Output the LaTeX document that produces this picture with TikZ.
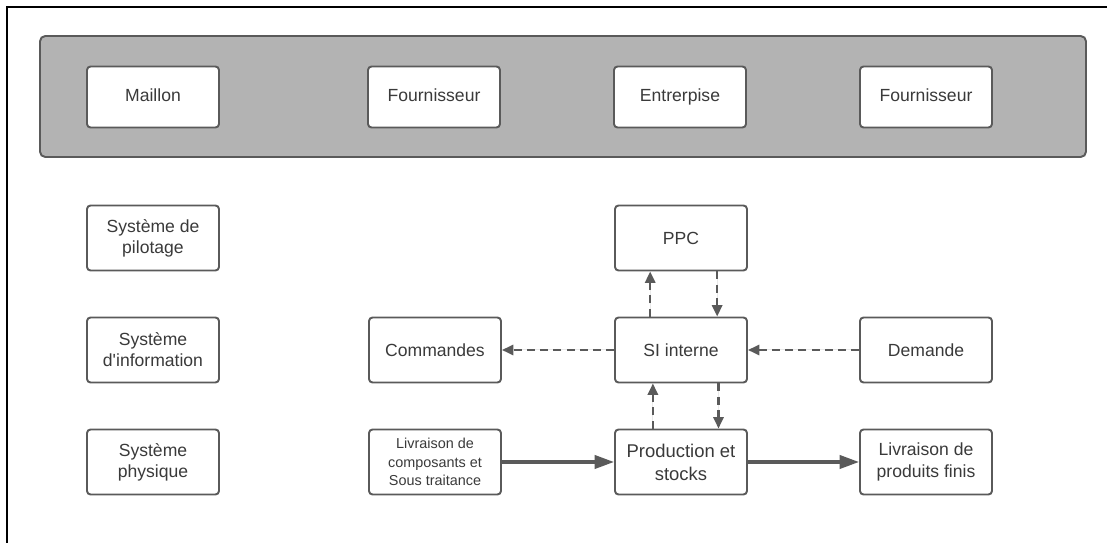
\documentclass[tikz,border=0pt]{standalone}
\usepackage{fontspec}
\setmainfont{Liberation Sans}
\usepackage{tikz}
\usetikzlibrary{calc,arrows.meta}
\definecolor{trait}{HTML}{5A5A5A}
\definecolor{texte}{HTML}{3A3A3A}
\definecolor{bande}{HTML}{B3B3B3}
\tikzset{
	boite/.style={draw=trait, line width=1.1pt, rounded corners=2pt, fill=white, text=texte,
		minimum width=2.64cm, minimum height=1.3cm, align=center, inner sep=1pt,
		font=\fontsize{10}{12}\selectfont},
	entete/.style={boite, minimum height=1.22cm, text height=7.5pt, text depth=2.2pt},
	flux/.style={-{Triangle[length=6.5pt,width=5.8pt]}, draw=trait, fill=trait, line width=1.4pt, dash pattern=on 4.5pt off 3pt},
	physique/.style={-{Triangle[length=11pt,width=7.5pt]}, draw=trait, fill=trait, line width=1.8pt}
}

\begin{document}
\begin{tikzpicture}[x=0.02cm, y=-0.02cm]
			%%%%% START %%%%%
			\useasboundingbox (0, 0) rectangle (1107, 543);
			
			\draw[line width=1.2pt] (7, 543) -- (7, 7) -- (1107, 7);
			
			\draw[draw=trait, fill=bande, line width=1.1pt, rounded corners=3pt] (40, 36) rectangle (1086, 157);
			
			\node[entete] (maillon) at (153, 97) {Maillon};
			\node[entete] (fourn1) at (434, 97) {Fournisseur};
			\node[entete] (entreprise) at (680, 97) {Entrerpise};
			\node[entete] (fourn2) at (926, 97) {Fournisseur};
			
			\node[boite] (pilotage) at (153, 238) {Système de\\pilotage};
			\node[boite] (information) at (153, 350) {Système\\d\textquotesingle information};
			\node[boite] (physique) at (153, 462) {Système\\physique};
			
			\node[boite] (ppc) at (681, 238) {PPC};
			\node[boite] (commandes) at (435, 350) {Commandes};
			\node[boite] (si) at (681, 350) {SI interne};
			\node[boite] (demande) at (926, 350) {Demande};
			
			\node[boite, font=\fontsize{8.2}{10.5}\selectfont] (livcomp) at (435, 462) {Livraison de\\composants et\\Sous traitance};
			\node[boite, font=\fontsize{10.5}{13}\selectfont] (prod) at (681, 462) {Production et\\stocks};
			\node[boite] (livprod) at (926, 462) {Livraison de\\produits finis};
			
			\draw[flux] (si.west) -- (commandes.east);
			\draw[flux] (demande.west) -- (si.east);
			\draw[flux] ($(si.north west)!0.27!(si.north east)$) -- ($(ppc.south west)!0.27!(ppc.south east)$);
			\draw[flux] ($(ppc.south west)!0.77!(ppc.south east)$) -- ($(si.north west)!0.77!(si.north east)$);
			\draw[flux] ($(prod.north west)!0.29!(prod.north east)$) -- ($(si.south west)!0.29!(si.south east)$);
			\draw[flux] ($(si.south west)!0.78!(si.south east)$) -- ($(prod.north west)!0.78!(prod.north east)$);
			
			\draw[physique] (livcomp.east) -- (prod.west);
			\draw[physique] (prod.east) -- (livprod.west);
			%%%%% END %%%%%
\end{tikzpicture}
\end{document}
